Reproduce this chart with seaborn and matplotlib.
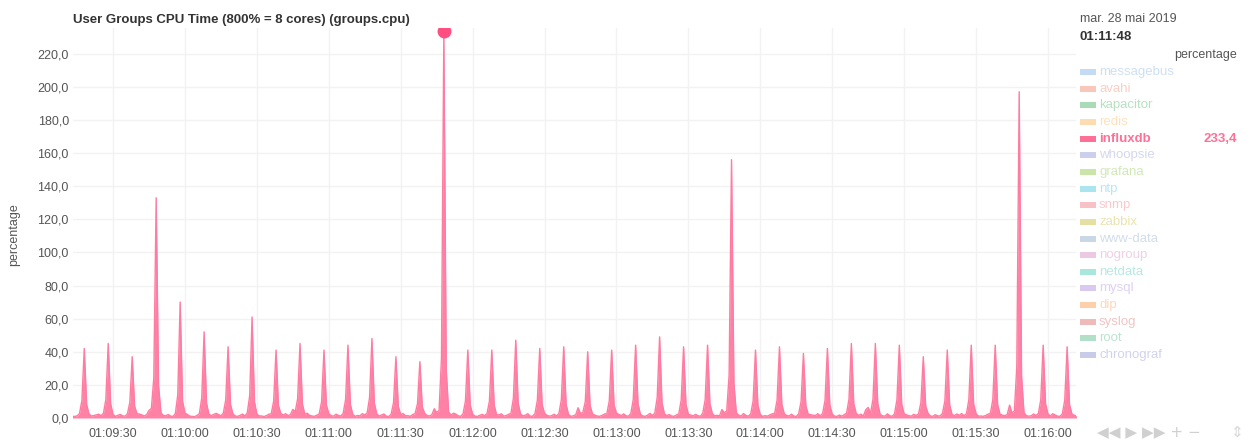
import matplotlib
matplotlib.use("Agg")
import matplotlib.pyplot as plt
import matplotlib.dates as mdates
from matplotlib.patches import Rectangle
import seaborn as sns
import pandas as pd

# per-second samples of influxdb, one row = 10 seconds, starting 01:09:13
influxdb = [
    1.1, 0.9, 1.3, 2.6, 10.5, 42.0, 8.0, 2.4, 1.2, 1.5,
    1.9, 2.3, 1.4, 2.8, 11.2, 45.0, 8.6, 2.1, 1.0, 1.6,
    2.2, 1.3, 1.1, 2.5, 9.4, 37.0, 7.1, 2.6, 2.4, 1.9,
    1.2, 2.0, 4.6, 5.8, 24.0, 133.0, 19.5, 3.1, 1.5, 1.4,
    2.1, 1.2, 0.9, 2.7, 14.0, 70.0, 10.2, 2.9, 2.2, 1.1,
    1.0, 0.8, 1.5, 2.6, 12.0, 52.0, 9.0, 2.3, 1.4, 2.2,
    2.8, 2.1, 1.3, 2.9, 10.8, 43.0, 8.2, 2.5, 1.2, 1.0,
    1.6, 2.4, 1.2, 3.1, 13.5, 61.0, 9.8, 2.2, 1.3, 1.2,
    0.9, 1.4, 2.3, 2.5, 10.1, 41.0, 7.6, 2.7, 1.8, 2.6,
    1.5, 2.0, 5.2, 3.8, 11.6, 45.0, 8.4, 2.3, 2.9, 1.6,
    1.2, 1.0, 1.7, 2.4, 9.9, 41.0, 7.9, 2.6, 1.4, 1.1,
    2.3, 1.6, 1.1, 2.8, 11.0, 44.0, 8.3, 2.2, 1.0, 1.5,
    1.3, 2.6, 1.9, 3.0, 12.2, 48.0, 9.1, 2.5, 1.2, 1.8,
    2.4, 1.1, 0.9, 2.3, 9.2, 37.0, 7.0, 2.1, 2.7, 1.3,
    1.4, 1.0, 2.1, 2.6, 8.6, 34.0, 6.7, 2.8, 1.5, 1.2,
    2.0, 5.6, 3.4, 4.5, 36.0, 233.4, 29.0, 3.6, 1.8, 2.9,
    2.4, 1.3, 1.0, 2.5, 10.2, 41.0, 7.8, 2.3, 1.1, 1.0,
    1.6, 2.2, 1.4, 2.7, 10.0, 41.0, 7.7, 2.0, 1.9, 2.5,
    1.1, 1.5, 2.2, 2.9, 11.8, 47.0, 8.9, 2.4, 1.3, 1.7,
    2.6, 1.2, 1.0, 2.6, 10.6, 42.0, 8.0, 2.8, 1.6, 1.1,
    1.4, 2.3, 1.2, 2.8, 10.9, 43.0, 8.1, 2.2, 1.0, 1.3,
    1.9, 6.2, 2.7, 3.4, 10.0, 40.0, 7.5, 2.5, 1.7, 1.2,
    1.0, 1.6, 2.4, 2.6, 10.3, 41.0, 7.8, 2.9, 2.2, 1.4,
    2.5, 1.3, 1.1, 2.7, 11.1, 44.0, 8.4, 2.3, 1.2, 1.0,
    1.7, 2.8, 1.5, 3.0, 12.4, 49.0, 9.2, 2.6, 1.4, 2.1,
    1.2, 1.0, 1.8, 2.5, 10.8, 43.0, 8.1, 2.2, 1.8, 1.3,
    2.2, 1.4, 1.0, 2.9, 11.0, 44.0, 8.5, 2.7, 1.3, 1.6,
    1.3, 5.1, 3.2, 4.2, 26.0, 156.0, 21.0, 3.2, 1.6, 1.2,
    2.7, 1.5, 1.1, 2.4, 10.2, 41.0, 7.7, 2.1, 1.0, 1.4,
    1.1, 1.9, 2.5, 2.8, 10.8, 43.0, 8.2, 2.6, 1.5, 1.2,
    2.3, 1.2, 0.9, 2.5, 9.8, 39.0, 7.4, 2.3, 2.0, 1.7,
    1.5, 2.6, 1.3, 2.7, 10.6, 42.0, 8.0, 2.4, 1.1, 1.0,
    1.8, 1.1, 2.0, 2.9, 11.4, 45.0, 8.6, 2.8, 1.6, 2.3,
    1.2, 5.0, 6.4, 2.9, 11.2, 45.0, 8.7, 2.2, 1.3, 1.1,
    2.5, 1.4, 1.0, 2.6, 11.0, 44.0, 8.3, 2.5, 1.9, 1.4,
    1.1, 2.2, 1.6, 2.4, 9.3, 37.0, 7.2, 2.7, 1.2, 1.0,
    2.0, 1.3, 1.2, 2.8, 10.3, 41.0, 7.9, 2.1, 1.5, 2.4,
    1.6, 2.7, 1.4, 2.6, 11.0, 44.0, 8.4, 2.6, 1.1, 1.2,
    1.0, 1.5, 2.3, 2.9, 11.1, 44.0, 8.2, 2.3, 1.7, 1.4,
    2.1, 7.8, 3.0, 4.4, 31.0, 197.0, 25.0, 3.3, 1.4, 1.1,
    1.3, 2.4, 1.5, 2.7, 11.0, 44.0, 8.5, 2.5, 1.2, 2.6,
    1.8, 1.1, 1.0, 2.5, 10.7, 43.0, 8.1, 2.4, 1.6, 1.3,
]

groups = ["messagebus", "avahi", "kapacitor", "redis", "influxdb", "whoopsie",
          "grafana", "ntp", "snmp", "zabbix", "www-data", "nogroup", "netdata",
          "mysql", "dip", "syslog", "root", "chronograf"]
group_colors = ["#c5daf3", "#f8c6bb", "#a9dcb6", "#fddcb2", "#ff7096", "#cdd0ec",
                "#c9e5aa", "#a9e4ef", "#f8c1c5", "#e6dfa3", "#c9d7e6", "#ebc9e3",
                "#a9e6dc", "#d8c9f0", "#fdd0aa", "#efbaba", "#b1dfc9", "#c9cce8"]

y_ticks = [0, 20, 40, 60, 80, 100, 120, 140, 160, 180, 200, 220]
hover_time = "2019-05-28 01:11:48"
hover_value = 233.4

times = pd.date_range("2019-05-28 01:09:13", periods=len(influxdb), freq="s")
df = pd.DataFrame({"time": times, "value": influxdb})

sns.set_theme(style="white")
plt.rcParams["font.family"] = ["Liberation Sans", "DejaVu Sans"]

W, H = 1251, 441
fig = plt.figure(figsize=(W / 100, H / 100), dpi=100)
ax = fig.add_axes([73 / W, 23 / H, (1076 - 73) / W, (418 - 28) / H])

pink = "#ff7ba1"
ax.fill_between(df["time"], 0, df["value"], color=pink, linewidth=0, alpha=0.95)
sns.lineplot(data=df, x="time", y="value", color=pink, linewidth=1, ax=ax)
ax.plot(pd.Timestamp(hover_time), hover_value, "o", color="#ff4f80",
        markersize=9, clip_on=True, zorder=5)

ax.set_xlim(pd.Timestamp("2019-05-28 01:09:13.3"), pd.Timestamp("2019-05-28 01:16:11.7"))
ax.set_ylim(0, 235.5)
ax.set_yticks(y_ticks)
ax.set_yticklabels([f"{v:.1f}".replace(".", ",") for v in y_ticks])
ax.xaxis.set_major_locator(mdates.SecondLocator(bysecond=[0, 30]))
ax.xaxis.set_major_formatter(mdates.DateFormatter("%H:%M:%S"))
ax.tick_params(axis="y", labelsize=9, colors="#555555", length=0, pad=3)
ax.tick_params(axis="x", labelsize=9, colors="#555555", length=0, pad=7)
ax.grid(True, color="#f2f2f2", linewidth=1)
ax.set_axisbelow(True)
for s in ax.spines.values():
    s.set_visible(False)
ax.set_xlabel("")
ax.set_ylabel("")

fig.text(14 / W, 1 - 235 / H, "percentage", rotation=90, ha="center", va="center",
         fontsize=9, color="#555555")
fig.text(73 / W, 1 - 20 / H, "User Groups CPU Time (800% = 8 cores) (groups.cpu)",
         fontsize=9.5, fontweight="bold", color="#333333", va="center")

# legend panel on the right
fig.text(1080 / W, 1 - 19 / H, "mar. 28 mai 2019", fontsize=9, color="#555555", va="center")
fig.text(1080 / W, 1 - 37 / H, "01:11:48", fontsize=9.5, fontweight="bold",
         color="#333333", va="center")
fig.text(1237 / W, 1 - 55 / H, "percentage", fontsize=9, color="#555555",
         ha="right", va="center")
for i, (name, col) in enumerate(zip(groups, group_colors)):
    yc = 72 + i * 16.65
    fig.patches.append(Rectangle((1080 / W, 1 - (yc + 3) / H), 16 / W, 6 / H,
                                 transform=fig.transFigure, color=col, linewidth=0))
    if name == "influxdb":
        fig.text(1099 / W, 1 - yc / H, name, fontsize=9.5, fontweight="bold",
                 color=col, va="center")
        fig.text(1237 / W, 1 - yc / H, f"{hover_value:.1f}".replace(".", ","),
                 fontsize=9.5, fontweight="bold", color=col, ha="right", va="center")
    else:
        fig.text(1099 / W, 1 - yc / H, name, fontsize=9.5, color=col, alpha=0.85,
                 va="center")

fig.text(1097 / W, 1 - 432 / H, "◀◀ ▶ ▶▶ + −", fontsize=11, color="#d0d0d0",
         family=["DejaVu Sans"], va="center")
fig.text(1237 / W, 1 - 432 / H, "⇕", fontsize=11, color="#d8d8d8",
         family=["DejaVu Sans"], ha="center", va="center")

fig.savefig("out.png", dpi=100)
